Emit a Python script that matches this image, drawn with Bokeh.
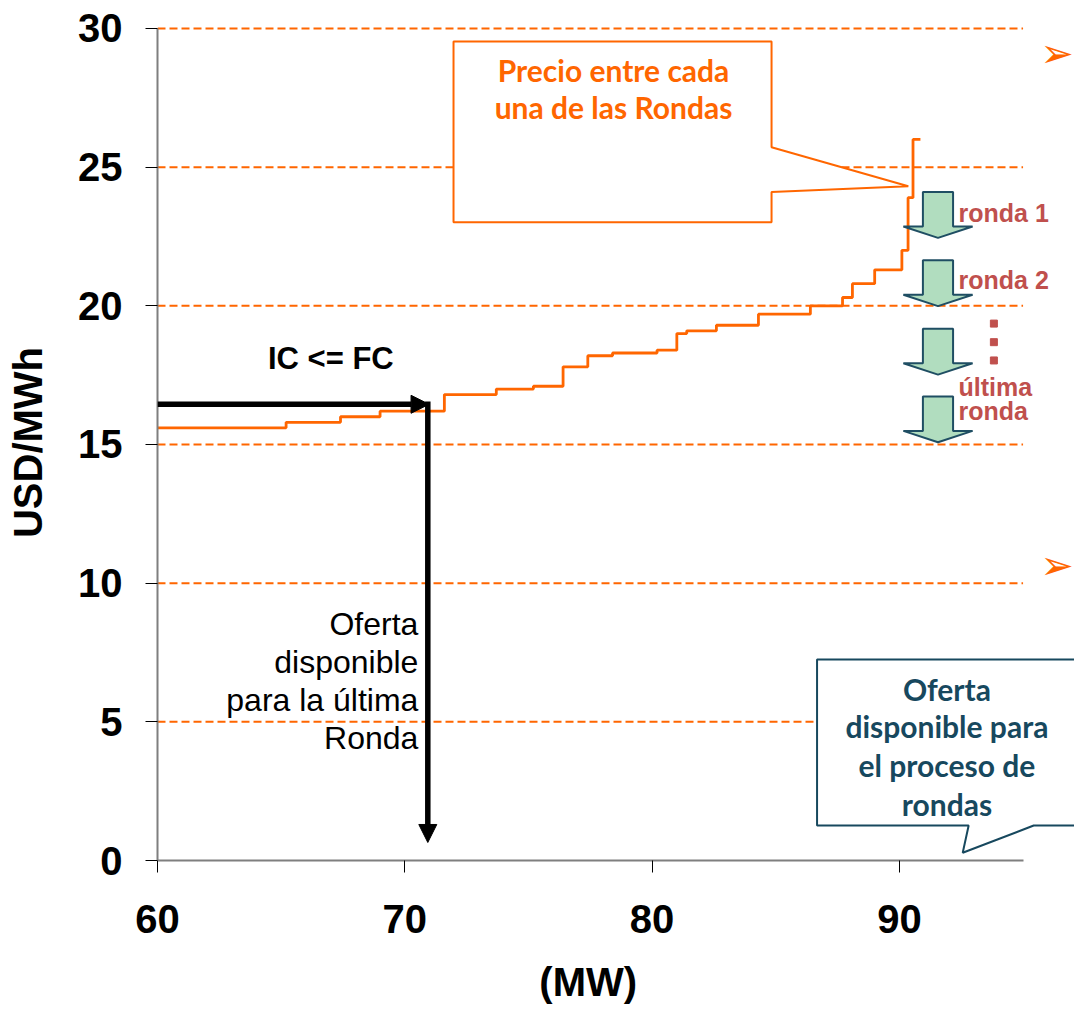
from bokeh.plotting import figure
from bokeh.models import Range1d, FixedTicker, Arrow, NormalHead
from bokeh.core.properties import value
from bokeh.embed import file_html
from bokeh.resources import INLINE

# ---------------- data ----------------
mw = [60.0, 65.2, 67.4, 69.0, 71.6, 73.7, 75.2, 76.4, 77.4, 78.4, 80.2, 81.0,
      81.4, 82.6, 84.3, 86.4, 87.7, 88.1, 89.0, 90.1, 90.35, 90.55]
price = [15.6, 15.8, 16.0, 16.2, 16.8, 17.0, 17.1, 17.8, 18.2, 18.3, 18.4, 19.0,
         19.1, 19.3, 19.7, 20.0, 20.3, 20.8, 21.3, 22.0, 23.9, 26.0]
mw_end = 90.85

x_ticks = [60, 70, 80, 90]
y_ticks = [0, 5, 10, 15, 20, 25, 30]
grid_levels = [5, 10, 15, 20, 25, 30]

ic_mw = 70.93          # capacity where IC <= FC
ic_price = 16.45       # price level of IC <= FC
offer_floor = 0.65     # bottom of the "oferta disponible" arrow

round_labels = ["ronda 1", "ronda 2", "última", "ronda"]
round_label_y = [23.34, 20.93, 17.06, 16.21]
round_arrow_top = [24.10, 21.64, 19.17, 16.73]
dots_y = [19.36, 18.69, 18.03]

callout1_lines = ["Precio entre cada", "una de las Rondas"]
callout1_y = [28.49, 27.17]
callout1_x = [71.97, 84.83, 84.83, 90.36, 84.83, 84.83, 71.97]
callout1_yy = [29.53, 29.53, 25.72, 24.31, 24.10, 23.01, 23.01]

callout2_lines = ["Oferta", "disponible para", "el proceso de", "rondas"]
callout2_y = [6.20, 4.85, 3.45, 2.05]
callout2_x = [86.67, 98.0, 98.0, 95.43, 92.56, 92.80, 86.67]
callout2_yy = [7.25, 7.25, 1.26, 1.26, 0.28, 1.26, 1.26]

offer_lines = ["Oferta", "disponible", "para la última", "Ronda"]
offer_y = [8.52, 7.14, 5.79, 4.42]

ORANGE = "#FF6600"
TEAL = "#17485E"
RED = "#C0504D"
GREEN = "#B1DDBF"

p = figure(width=1074, height=1009, output_backend="svg", toolbar_location=None,
           x_range=Range1d(60, 97.08), y_range=Range1d(0, 30.144),
           min_border_left=157, min_border_right=0, min_border_top=24,
           min_border_bottom=149)
p.outline_line_color = None
p.xgrid.visible = False
p.ygrid.visible = False

for ax in (p.xaxis[0], p.yaxis[0]):
    ax.axis_line_color = "#7F7F7F"
    ax.axis_line_width = 2
    ax.major_tick_line_color = "black"
    ax.major_tick_out = 12
    ax.major_tick_in = 0
    ax.minor_tick_line_color = None
    ax.major_label_text_font = "Liberation Sans"
    ax.major_label_text_font_style = "bold"
    ax.major_label_text_font_size = "40px"
    ax.major_label_text_color = "black"
    ax.axis_label_text_font = "Liberation Sans"
    ax.axis_label_text_font_style = "bold"
    ax.axis_label_text_font_size = "40px"
    ax.axis_label_text_color = "black"

p.xaxis.bounds = (60, 95)
p.yaxis.bounds = (0, 30)
p.xaxis.ticker = FixedTicker(ticks=x_ticks)
p.yaxis.ticker = FixedTicker(ticks=y_ticks)
p.xaxis.major_label_standoff = 32
p.yaxis.major_label_standoff = 23
p.yaxis.axis_label = "USD/MWh"
p.yaxis.axis_label_standoff = 25
# trailing no-break spaces keep the title centred under the 60-95 axis span
p.xaxis.axis_label = "(MW)" + "\u00a0" * 5
p.xaxis.axis_label_standoff = 24

# dashed grid lines
p.segment(x0=[60] * len(grid_levels), y0=grid_levels, x1=[95] * len(grid_levels),
          y1=grid_levels, line_color=ORANGE, line_width=2, line_dash="8 4")

# callouts
p.patch(callout1_x, callout1_yy, fill_color="white", line_color=ORANGE, line_width=2)
p.patch(callout2_x, callout2_yy, fill_color="white", line_color=TEAL, line_width=2)

# supply step curve
p.step(x=mw + [mw_end], y=price + [price[-1]], mode="after",
       line_color=ORANGE, line_width=2.8)

# black arrows
p.add_layout(Arrow(end=NormalHead(size=18, fill_color="black", line_color="black"),
                   x_start=60, y_start=ic_price, x_end=ic_mw + 0.05, y_end=ic_price,
                   line_width=5.5, line_color="black"))
p.add_layout(Arrow(end=NormalHead(size=18, fill_color="black", line_color="black"),
                   x_start=ic_mw, y_start=ic_price + 0.1, x_end=ic_mw, y_end=offer_floor,
                   line_width=5.5, line_color="black"))

# green block arrows
cx, ws, wh, shaft, head = 91.56, 0.61, 1.40, 1.24, 0.41
axs, ays = [], []
for t in round_arrow_top:
    b = t - shaft
    axs.append([cx - ws, cx + ws, cx + ws, cx + wh, cx, cx - wh, cx - ws])
    ays.append([t, t, b, b, b - head, b, b])
p.patches(axs, ays, fill_color=GREEN, line_color="#1F4E63", line_width=2)

p.text(x=[92.39] * len(round_labels), y=round_label_y, text=round_labels,
       text_font=value("Liberation Sans"), text_font_style="bold",
       text_font_size="25px", text_color=RED, text_align="left",
       text_baseline="alphabetic")
p.scatter(x=[93.82] * len(dots_y), y=dots_y, marker="square", size=7,
          color=RED)

# texts
p.text(x=[78.44] * 2, y=callout1_y, text=callout1_lines,
       text_font=value("Lato"), text_font_style="bold", text_font_size="30px",
       text_color=ORANGE, text_align="center", text_baseline="alphabetic")
p.text(x=[91.92] * 4, y=callout2_y, text=callout2_lines,
       text_font=value("Lato"), text_font_style="bold", text_font_size="30px",
       text_color=TEAL, text_align="center", text_baseline="alphabetic")
p.text(x=[67.01], y=[18.10], text=["IC <= FC"],
       text_font=value("Liberation Sans"), text_font_style="bold",
       text_font_size="31px", text_color="black", text_align="center",
       text_baseline="alphabetic")
p.text(x=[70.55] * 4, y=offer_y, text=offer_lines,
       text_font=value("Liberation Sans"), text_font_size="32px",
       text_color="black", text_align="right", text_baseline="alphabetic")

# bullet chevrons at the right edge
p.text(x=[95.70, 95.70], y=[29.13, 10.64], text=["➢", "➢"],
       text_font=value("DejaVu Sans"), text_font_size="40px",
       text_color=ORANGE, text_align="left", text_baseline="middle")

open("out.html", "w").write(file_html(p, INLINE))
